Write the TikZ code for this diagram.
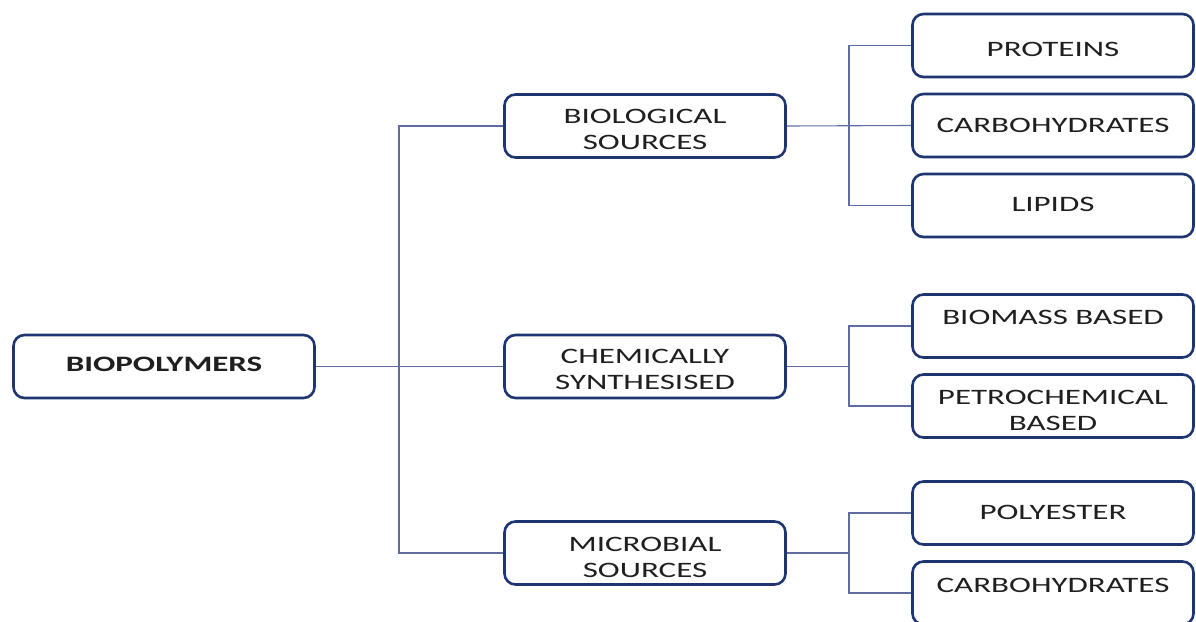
\documentclass[tikz,border=0pt]{standalone}
\usepackage{fontspec}
\setmainfont{Carlito}[FakeStretch=1.5]
\definecolor{boxblue}{HTML}{1F3572}
\definecolor{linkblue}{HTML}{5F6E9E}
\begin{document}
\begin{tikzpicture}[x=1pt,y=-1pt,
  box/.style={draw=boxblue,line width=2.6pt,rounded corners=11pt,fill=white,
    minimum width=281pt,minimum height=63pt,inner sep=0pt,align=center,
    font=\fontsize{22}{26}\selectfont,text=black!88},
  rootbox/.style={box,minimum width=301pt,font=\fontsize{22}{26}\selectfont\bfseries},
  dn/.style={text height=#1,text depth=0pt},
  up/.style={text height=0pt,text depth=#1},
  link/.style={draw=linkblue,line width=1.1pt}]
\useasboundingbox (0,0) rectangle (1196,621);
\clip (0,0) rectangle (1196,621);
% nodes
\node[rootbox,dn=10pt] (root) at (164,366.5) {BIOPOLYMERS};
\node[box,dn=46pt] (bio) at (645,126) {BIOLOGICAL\\SOURCES};
\node[box,dn=45pt] (chem) at (645,366.5) {CHEMICALLY\\SYNTHESISED};
\node[box,dn=48pt] (micro) at (645,553) {MICROBIAL\\SOURCES};
\node[box,dn=22pt] (prot) at (1053,45.5) {PROTEINS};
\node[box,dn=13pt] (carb) at (1053,125.5) {CARBOHYDRATES};
\node[box,dn=12pt] (lip) at (1053,205.5) {LIPIDS};
\node[box,up=3pt] (biom) at (1053,326) {BIOMASS BASED};
\node[box,dn=48pt] (petro) at (1053,406) {PETROCHEMICAL\\BASED};
\node[box,dn=13pt] (poly) at (1053,513) {POLYESTER};
\node[box,up=1pt] (carb2) at (1053,593) {CARBOHYDRATES};
% junction coordinates
\coordinate (j0) at (399,366.5);
\coordinate (j1) at (849,125.5);
\coordinate (j2) at (849,366.5);
\coordinate (j3) at (849,553);
% connectors
\path[link] (root.east) -- (chem.west);
\path[link] (bio.west) -| (j0) |- (micro.west);
\path[link] (bio.east) -- (carb.west);
\path[link] (prot.west) -| (j1) |- (lip.west);
\path[link] (chem.east) -- (j2);
\path[link] (biom.west) -| (j2) |- (petro.west);
\path[link] (micro.east) -- (j3);
\path[link] (poly.west) -| (j3) |- (carb2.west);
\end{tikzpicture}
\end{document}
